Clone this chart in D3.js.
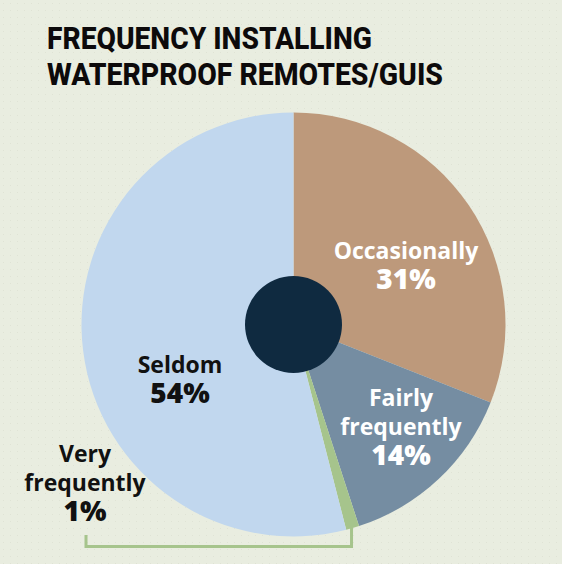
<!DOCTYPE html>
<html>
<head>
<meta charset="utf-8">
<script src="https://cdn.jsdelivr.net/npm/d3@7"></script>
<style>
  html, body { margin: 0; padding: 0; background: #e9ede0; }
  svg { display: block; }
</style>
</head>
<body>
<svg id="chart" width="562" height="564"></svg>
<script>
// ---- data ----
const categories = ["Occasionally", "Fairly frequently", "Very frequently", "Seldom"];
const values = [31, 14, 1, 54];
const valueLabels = ["31%", "14%", "1%", "54%"];
const labelLines = [["Occasionally"], ["Fairly", "frequently"], ["Very", "frequently"], ["Seldom"]];
const titleLines = ["FREQUENCY INSTALLING", "WATERPROOF REMOTES/GUIS"];

// ---- styling / layout ----
const colors = ["#bd997b", "#758da2", "#a6c48c", "#c1d7ee"];
const textColors = ["#ffffff", "#ffffff", "#111111", "#111111"];
const W = 562, H = 564;
const cx = 293.5, cy = 324.5, R = 212, hubR = 48.5;
const labelPos = [
  { x: 406, y: 259 },
  { x: 401, y: 406 },
  { x: 85, y: 462 },
  { x: 180, y: 373 }
];

const svg = d3.select("#chart");
svg.append("rect").attr("width", W).attr("height", H).attr("fill", "#e9ede0");

// subtle dotted background
const defs = svg.append("defs");
const pat = defs.append("pattern").attr("id", "dots").attr("width", 7).attr("height", 7)
  .attr("patternUnits", "userSpaceOnUse");
pat.append("circle").attr("cx", 3.5).attr("cy", 3.5).attr("r", 0.6).attr("fill", "#dde2d3");
svg.append("rect").attr("width", W).attr("height", H).attr("fill", "url(#dots)");

// title
const title = svg.append("g");
const titleWidths = [325, 396];
titleLines.forEach((t, i) => {
  title.append("text")
    .attr("x", 47).attr("y", 49 + i * 36)
    .attr("font-family", "Roboto, 'Open Sans', sans-serif")
    .attr("font-weight", 800)
    .attr("font-size", 31)
    .attr("fill", "#0d0a0b")
    .attr("textLength", titleWidths[i])
    .attr("lengthAdjust", "spacingAndGlyphs")
    .text(t);
});

// pie
const pie = d3.pie().sort(null).value(d => d)
  .startAngle(0).endAngle(2 * Math.PI);
const arcs = pie(values);
const arc = d3.arc().innerRadius(0).outerRadius(R);

const g = svg.append("g").attr("transform", `translate(${cx},${cy})`);
g.selectAll("path.slice").data(arcs).join("path")
  .attr("class", "slice")
  .attr("d", arc)
  .attr("fill", (d, i) => colors[i]);

g.append("circle").attr("r", hubR).attr("fill", "#0f2a40");

// bracket for the tiny slice
const tiny = arcs[2];
const midA = (tiny.startAngle + tiny.endAngle) / 2;
const rimX = cx + Math.sin(midA) * (R - 4);
const rimY = cy - Math.cos(midA) * (R - 4);
const bracketY = 546.5;
svg.append("path")
  .attr("d", `M${labelPos[2].x + 1},535 V${bracketY} H${rimX} V${rimY}`)
  .attr("fill", "none")
  .attr("stroke", "#a6c48c")
  .attr("stroke-width", 3);

// labels (one text element per slice, lines as tspans)
const lab = svg.append("g").attr("font-family", "'Open Sans', sans-serif").attr("text-anchor", "middle");
categories.forEach((c, i) => {
  const p = labelPos[i];
  const lines = labelLines[i];
  const t = lab.append("text").attr("fill", textColors[i]);
  lines.forEach((ln, j) => {
    t.append("tspan")
      .attr("x", p.x).attr("y", p.y + j * 29)
      .attr("font-weight", 700)
      .attr("font-size", 23)
      .text(ln);
  });
  t.append("tspan")
    .attr("x", p.x).attr("y", p.y + lines.length * 29 + 1)
    .attr("font-weight", 800)
    .attr("font-size", 28)
    .text(valueLabels[i]);
});
</script>
</body>
</html>
